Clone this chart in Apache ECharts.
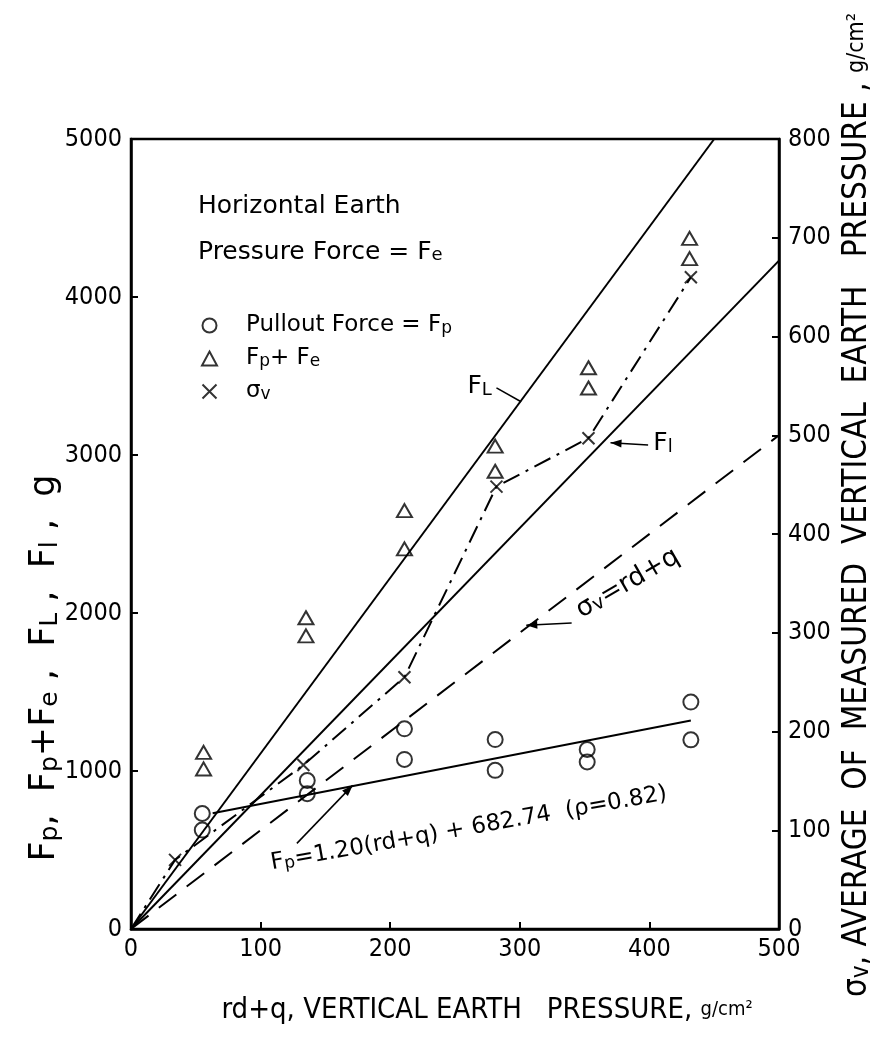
<!DOCTYPE html>
<html><head><meta charset="utf-8">
<script src="https://cdn.jsdelivr.net/npm/echarts@6/dist/echarts.min.js"></script>
<style>html,body{margin:0;padding:0;background:#fff}#c{width:885px;height:1041px}</style>
</head><body><div id="c"></div>
<script>
// ---- data ----
const xTicks = [0, 100, 200, 300, 400, 500];
const leftTicks = [0, 1000, 2000, 3000, 4000, 5000];
const rightTicks = [0, 100, 200, 300, 400, 500, 600, 700, 800];

// Pullout force Fp (g) vs rd+q (g/cm2)
const pulloutX = [55, 55, 136, 136, 211, 211, 281, 281, 352, 352, 432, 432];
const pulloutY = [731, 626, 940, 856, 1267, 1073, 1199, 1004, 1136, 1057, 1436, 1197];
// Fp + Fe (g)
const sumX = [56, 56, 135, 135, 211, 211, 281, 281, 353, 353, 431, 431];
const sumY = [1118, 1013, 1970, 1855, 2648, 2406, 3056, 2897, 3552, 3424, 4371, 4243];
// measured average vertical earth pressure sigma_v (g/cm2, right axis)
const sigmaX = [34, 133, 211, 282, 353, 432];
const sigmaY = [70, 166, 255, 448, 497, 660];
// reference lines (end points)
const lineFL_X = [0, 450], lineFL_Y = [0, 5000];
const lineFl_X = [0, 500], lineFl_Y = [0, 4230];
const lineSv_X = [0, 500], lineSv_Y = [0, 500];      // sigma_v = rd+q (right axis)
const fitX = [63, 432], fitY = [732, 1320];          // Fp regression line

const zip = (a, b) => a.map((v, i) => [v, b[i]]);
const NARROW = '"DejaVu Sans Condensed","Liberation Sans Narrow","Liberation Sans",sans-serif';
const SANS = '"DejaVu Sans","Liberation Sans",sans-serif';
const BLACK = '#000';

function rich(size, family) {
  return {
    t: {fontSize: size, fontFamily: family, color: BLACK},
    s: {fontSize: Math.round(size * 0.72), fontFamily: family, color: BLACK, verticalAlign: 'bottom'},
    u: {fontSize: Math.round(size * 0.7), fontFamily: family, color: BLACK}
  };
}

const hollow = {color: 'rgba(0,0,0,0)', borderColor: BLACK, borderWidth: 2};
const xPath = 'path://M0,0L10,10M10,0L0,10';

const axisCommon = {
  type: 'value',
  axisLine: {show: true, onZero: false, lineStyle: {color: BLACK, width: 2.5}},
  axisTick: {show: true, inside: true, length: 7, lineStyle: {color: BLACK, width: 2}},
  splitLine: {show: false},
  axisLabel: {color: BLACK, fontFamily: NARROW, fontSize: 25, formatter: v => String(v)}
};

const option = {
  animation: false,
  backgroundColor: '#fff',
  grid: {left: 131, right: 106, top: 139, bottom: 112, show: true, borderColor: BLACK, borderWidth: 2.5},
  xAxis: Object.assign({}, axisCommon, {
    min: xTicks[0], max: xTicks[xTicks.length - 1], interval: xTicks[1] - xTicks[0],
    axisLabel: Object.assign({}, axisCommon.axisLabel, {margin: 8})
  }),
  yAxis: [
    Object.assign({}, axisCommon, {
      position: 'left', min: leftTicks[0], max: leftTicks[leftTicks.length - 1], interval: leftTicks[1] - leftTicks[0],
      axisLabel: Object.assign({}, axisCommon.axisLabel, {margin: 9})
    }),
    Object.assign({}, axisCommon, {
      position: 'right', min: rightTicks[0], max: rightTicks[rightTicks.length - 1], interval: rightTicks[1] - rightTicks[0],
      axisLabel: Object.assign({}, axisCommon.axisLabel, {margin: 9})
    })
  ],
  legend: {
    orient: 'vertical', left: 196, top: 309, itemWidth: 15, itemHeight: 14, itemGap: 10,
    selectedMode: false,
    data: [
      {name: 'Pullout Force = Fp', icon: 'circle', itemStyle: hollow},
      {name: 'Fp + Fe', icon: 'triangle', itemStyle: hollow},
      {name: 'σv', icon: xPath, itemStyle: hollow}
    ],
    formatter: n => ({
      'Pullout Force = Fp': '{t|Pullout Force = F}{s|p}',
      'Fp + Fe': '{t|F}{s|p}{t|+ F}{s|e}',
      'σv': '{t|σ}{s|v}'
    })[n],
    textStyle: {padding: [0, 0, 0, 24], rich: rich(23, SANS)}
  },
  series: [
    {name: 'FL', type: 'line', data: zip(lineFL_X, lineFL_Y), symbol: 'none', silent: true,
     lineStyle: {color: BLACK, width: 2}},
    {name: 'Fl', type: 'line', data: zip(lineFl_X, lineFl_Y), symbol: 'none', silent: true,
     lineStyle: {color: BLACK, width: 2}},
    {name: 'σv = rd+q', type: 'line', yAxisIndex: 1, data: zip(lineSv_X, lineSv_Y), symbol: 'none', silent: true,
     lineStyle: {color: BLACK, width: 2, type: [22, 13]}},
    {name: 'Fp fit', type: 'line', data: zip(fitX, fitY), symbol: 'none', silent: true,
     lineStyle: {color: BLACK, width: 2}},
    {name: 'σv line', type: 'line', yAxisIndex: 1, data: [[0, 0]].concat(zip(sigmaX, sigmaY)), symbol: 'none', silent: true,
     lineStyle: {color: BLACK, width: 2, type: [18, 7, 3, 7]}},
    {name: 'Pullout Force = Fp', type: 'scatter', data: zip(pulloutX, pulloutY), symbol: 'circle', symbolSize: 15,
     itemStyle: hollow},
    {name: 'Fp + Fe', type: 'scatter', data: zip(sumX, sumY), symbol: 'triangle', symbolSize: [15, 13],
     itemStyle: hollow},
    {name: 'σv', type: 'scatter', yAxisIndex: 1, data: zip(sigmaX, sigmaY), symbol: xPath, symbolSize: 12,
     itemStyle: hollow}
  ]
};

const chart = echarts.init(document.getElementById('c'), null, {renderer: 'canvas'});
chart.setOption(option);

// ---- annotations (anchors in data units of the left axis) ----
const P = (pt) => chart.convertToPixel({xAxisIndex: 0, yAxisIndex: 0}, pt);
const ann = {
  FLleader: [[282, 3425], [301, 3337]], FLlabel: [269, 3432],
  FlArrow: [[399, 3064], [370, 3077]], FlLabel: [403, 3070],
  svArrow: [[340, 1936], [305, 1923]], svLabel: [345, 2006],
  fpArrow: [[128, 542], [171, 909]], fpLabel: [108, 415]
};

function line(a, b, w) {
  return {type: 'line', shape: {x1: a[0], y1: a[1], x2: b[0], y2: b[1]}, style: {stroke: BLACK, lineWidth: w || 1.5}, silent: true};
}
function arrow(from, to) {
  const a = P(from), b = P(to);
  const ang = Math.atan2(b[1] - a[1], b[0] - a[0]);
  const L = 11, W = 4;
  const p1 = [b[0] - L * Math.cos(ang) + W * Math.sin(ang), b[1] - L * Math.sin(ang) - W * Math.cos(ang)];
  const p2 = [b[0] - L * Math.cos(ang) - W * Math.sin(ang), b[1] - L * Math.sin(ang) + W * Math.cos(ang)];
  return [line(a, b, 1.5), {type: 'polygon', shape: {points: [b, p1, p2]}, style: {fill: BLACK}, silent: true}];
}
function txt(pos, text, size, family, opts) {
  opts = opts || {};
  return {type: 'text', x: pos[0], y: pos[1], rotation: opts.rot || 0, silent: true,
    style: {text: text, align: opts.align || 'left', verticalAlign: opts.va || 'middle', rich: rich(size, family)}};
}

const g = [];
// legend header
g.push(txt([198, 206], '{t|Horizontal Earth}', 25, SANS));
g.push(txt([198, 252], '{t|Pressure Force = F}{s|e}', 25, SANS));
// F_L
g.push(line(P(ann.FLleader[0]), P(ann.FLleader[1]), 1.5));
g.push(txt(P(ann.FLlabel), '{t|F}{s|L}', 25, SANS, {align: 'center'}));
// F_l
g.push(...arrow(ann.FlArrow[0], ann.FlArrow[1]));
g.push(txt(P(ann.FlLabel), '{t|F}{s|l}', 25, SANS));
// sigma_v = rd+q
g.push(...arrow(ann.svArrow[0], ann.svArrow[1]));
g.push(txt(P(ann.svLabel), '{t|σ}{s|v}{t|=rd+q}', 26, SANS, {rot: 30 * Math.PI / 180}));
// Fp regression text
g.push(...arrow(ann.fpArrow[0], ann.fpArrow[1]));
g.push(txt(P(ann.fpLabel), '{t|F}{s|p}{t|=1.20(rd+q) + 682.74  (ρ=0.82)}', 23, SANS, {rot: 10 * Math.PI / 180}));
// axis titles
g.push(txt([45, 668], '{t|F}{s|p}{t|,  F}{s|p}{t|+F}{s|e}{t| ,  F}{s|L}{t| ,  F}{s|l}{t| ,  g}', 35, SANS,
  {align: 'center', rot: Math.PI / 2}));
g.push(txt([857, 505], '{t|σ}{s|v}{t|, AVERAGE  OF  MEASURED  VERTICAL  EARTH   PRESSURE , }{u|g/cm²}', 33, NARROW,
  {align: 'center', rot: Math.PI / 2}));
g.push(txt([487, 1010], '{t|rd+q, VERTICAL EARTH   PRESSURE, }{u|g/cm²}', 29, NARROW, {align: 'center'}));

chart.setOption({graphic: g});
</script></body></html>
